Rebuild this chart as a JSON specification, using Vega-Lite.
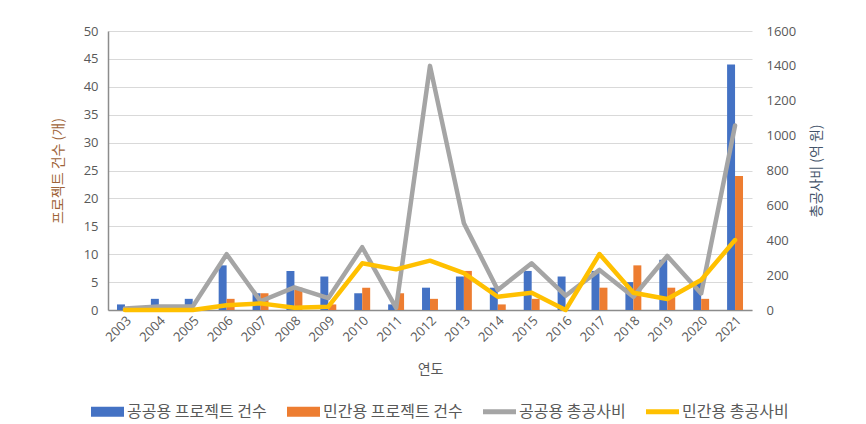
{
  "$schema": "https://vega.github.io/schema/vega-lite/v6.json",
  "width": 644,
  "height": 279,
  "autosize": {"type": "none"},
  "padding": {"left": 108, "top": 31, "right": 114, "bottom": 114},
  "background": "white",
  "config": {
    "font": "Noto Sans CJK KR",
    "view": {"stroke": null},
    "axis": {"labelColor": "#595959", "titleColor": "#595959", "labelFont": "Open Sans", "titleFont": "Noto Sans CJK KR", "titleFontWeight": "normal"},
    "legend": {"labelFont": "Noto Sans CJK KR", "padding": 0}
  },
  "datasets": {
    "counts": [
      {"year": "2003", "series": "공공용 프로젝트 건수", "count": 1},
      {"year": "2004", "series": "공공용 프로젝트 건수", "count": 2},
      {"year": "2005", "series": "공공용 프로젝트 건수", "count": 2},
      {"year": "2006", "series": "공공용 프로젝트 건수", "count": 8},
      {"year": "2007", "series": "공공용 프로젝트 건수", "count": 3},
      {"year": "2008", "series": "공공용 프로젝트 건수", "count": 7},
      {"year": "2009", "series": "공공용 프로젝트 건수", "count": 6},
      {"year": "2010", "series": "공공용 프로젝트 건수", "count": 3},
      {"year": "2011", "series": "공공용 프로젝트 건수", "count": 1},
      {"year": "2012", "series": "공공용 프로젝트 건수", "count": 4},
      {"year": "2013", "series": "공공용 프로젝트 건수", "count": 6},
      {"year": "2014", "series": "공공용 프로젝트 건수", "count": 4},
      {"year": "2015", "series": "공공용 프로젝트 건수", "count": 7},
      {"year": "2016", "series": "공공용 프로젝트 건수", "count": 6},
      {"year": "2017", "series": "공공용 프로젝트 건수", "count": 7},
      {"year": "2018", "series": "공공용 프로젝트 건수", "count": 5},
      {"year": "2019", "series": "공공용 프로젝트 건수", "count": 9},
      {"year": "2020", "series": "공공용 프로젝트 건수", "count": 5},
      {"year": "2021", "series": "공공용 프로젝트 건수", "count": 44},
      {"year": "2003", "series": "민간용 프로젝트 건수", "count": 0},
      {"year": "2004", "series": "민간용 프로젝트 건수", "count": 0},
      {"year": "2005", "series": "민간용 프로젝트 건수", "count": 0},
      {"year": "2006", "series": "민간용 프로젝트 건수", "count": 2},
      {"year": "2007", "series": "민간용 프로젝트 건수", "count": 3},
      {"year": "2008", "series": "민간용 프로젝트 건수", "count": 4},
      {"year": "2009", "series": "민간용 프로젝트 건수", "count": 1},
      {"year": "2010", "series": "민간용 프로젝트 건수", "count": 4},
      {"year": "2011", "series": "민간용 프로젝트 건수", "count": 3},
      {"year": "2012", "series": "민간용 프로젝트 건수", "count": 2},
      {"year": "2013", "series": "민간용 프로젝트 건수", "count": 7},
      {"year": "2014", "series": "민간용 프로젝트 건수", "count": 1},
      {"year": "2015", "series": "민간용 프로젝트 건수", "count": 2},
      {"year": "2016", "series": "민간용 프로젝트 건수", "count": 0},
      {"year": "2017", "series": "민간용 프로젝트 건수", "count": 4},
      {"year": "2018", "series": "민간용 프로젝트 건수", "count": 8},
      {"year": "2019", "series": "민간용 프로젝트 건수", "count": 4},
      {"year": "2020", "series": "민간용 프로젝트 건수", "count": 2},
      {"year": "2021", "series": "민간용 프로젝트 건수", "count": 24}
    ],
    "costs": [
      {"year": "2003", "series": "공공용 총공사비", "cost": 8},
      {"year": "2004", "series": "공공용 총공사비", "cost": 20},
      {"year": "2005", "series": "공공용 총공사비", "cost": 20},
      {"year": "2006", "series": "공공용 총공사비", "cost": 320},
      {"year": "2007", "series": "공공용 총공사비", "cost": 50},
      {"year": "2008", "series": "공공용 총공사비", "cost": 130},
      {"year": "2009", "series": "공공용 총공사비", "cost": 68},
      {"year": "2010", "series": "공공용 총공사비", "cost": 360},
      {"year": "2011", "series": "공공용 총공사비", "cost": 12},
      {"year": "2012", "series": "공공용 총공사비", "cost": 1400},
      {"year": "2013", "series": "공공용 총공사비", "cost": 498},
      {"year": "2014", "series": "공공용 총공사비", "cost": 115},
      {"year": "2015", "series": "공공용 총공사비", "cost": 268},
      {"year": "2016", "series": "공공용 총공사비", "cost": 82},
      {"year": "2017", "series": "공공용 총공사비", "cost": 230},
      {"year": "2018", "series": "공공용 총공사비", "cost": 76},
      {"year": "2019", "series": "공공용 총공사비", "cost": 310},
      {"year": "2020", "series": "공공용 총공사비", "cost": 95},
      {"year": "2021", "series": "공공용 총공사비", "cost": 1058},
      {"year": "2003", "series": "민간용 총공사비", "cost": 0},
      {"year": "2004", "series": "민간용 총공사비", "cost": 0},
      {"year": "2005", "series": "민간용 총공사비", "cost": 0},
      {"year": "2006", "series": "민간용 총공사비", "cost": 27},
      {"year": "2007", "series": "민간용 총공사비", "cost": 38},
      {"year": "2008", "series": "민간용 총공사비", "cost": 13},
      {"year": "2009", "series": "민간용 총공사비", "cost": 19},
      {"year": "2010", "series": "민간용 총공사비", "cost": 268},
      {"year": "2011", "series": "민간용 총공사비", "cost": 233},
      {"year": "2012", "series": "민간용 총공사비", "cost": 283},
      {"year": "2013", "series": "민간용 총공사비", "cost": 211},
      {"year": "2014", "series": "민간용 총공사비", "cost": 76},
      {"year": "2015", "series": "민간용 총공사비", "cost": 99},
      {"year": "2016", "series": "민간용 총공사비", "cost": 0},
      {"year": "2017", "series": "민간용 총공사비", "cost": 321},
      {"year": "2018", "series": "민간용 총공사비", "cost": 99},
      {"year": "2019", "series": "민간용 총공사비", "cost": 63},
      {"year": "2020", "series": "민간용 총공사비", "cost": 172},
      {"year": "2021", "series": "민간용 총공사비", "cost": 401}
    ]
  },
  "encoding": {
    "x": {
      "field": "year",
      "type": "nominal",
      "sort": null,
      "scale": {"paddingInner": 0.53, "paddingOuter": 0.265},
      "axis": {
        "title": "연도",
        "titleFontSize": 14,
        "titlePadding": 18,
        "labelAngle": -45,
        "labelFontSize": 13,
        "labelPadding": 4,
        "ticks": false,
        "domainColor": "#8c8c8c",
        "domainWidth": 1.5,
        "grid": false
      }
    }
  },
  "layer": [
    {
      "data": {"name": "counts"},
      "mark": {"type": "bar"},
      "encoding": {
        "xOffset": {"field": "series", "type": "nominal", "sort": ["공공용 프로젝트 건수", "민간용 프로젝트 건수"], "scale": {"paddingInner": 0, "paddingOuter": 0}},
        "y": {
          "field": "count",
          "type": "quantitative",
          "scale": {"domain": [0, 50], "nice": false},
          "axis": {
            "title": "프로젝트 건수 (개)",
            "titleColor": "#9e6338",
            "titleFontSize": 14,
            "titlePadding": 18,
            "values": [0, 5, 10, 15, 20, 25, 30, 35, 40, 45, 50],
            "labelFontSize": 13,
            "labelPadding": 10,
            "ticks": false,
            "domainColor": "#8c8c8c",
            "domainWidth": 1.5,
            "gridColor": "#d9d9d9",
            "gridWidth": 1
          }
        },
        "color": {
          "field": "series",
          "type": "nominal",
          "scale": {
            "domain": ["공공용 프로젝트 건수", "민간용 프로젝트 건수", "공공용 총공사비", "민간용 총공사비"],
            "range": ["#4472C4", "#ED7D31", "#A5A5A5", "#FFC000"]
          },
          "legend": {
            "title": null,
            "orient": "none",
            "legendX": -17,
            "legendY": 364,
            "direction": "horizontal",
            "labelFontSize": 16,
            "labelColor": "#595959",
            "symbolSize": 1089,
            "columnPadding": 20,
            "labelOffset": 3,
            "encode": {
              "symbols": {
                "update": {
                  "shape": {"signal": "indexof(datum.value, '총공사비') >= 0 ? 'M-1,-0.15H1V0.15H-1Z' : 'M-1,-0.3H1V0.3H-1Z'"},
                  "fill": {"scale": "color", "field": "value"},
                  "stroke": {"value": "transparent"},
                  "strokeWidth": {"value": 0},
                  "opacity": {"value": 1}
                }
              }
            }
          }
        }
      }
    },
    {
      "data": {"name": "costs"},
      "mark": {"type": "line", "strokeWidth": 4.5, "strokeJoin": "round", "strokeCap": "round"},
      "encoding": {
        "y": {
          "field": "cost",
          "type": "quantitative",
          "scale": {"domain": [0, 1600], "nice": false},
          "axis": {
            "orient": "right",
            "title": "총공사비 (억 원)",
            "titleAngle": -90,
            "titleFontSize": 14,
            "titleColor": "#44546A",
            "titlePadding": 28,
            "format": "d",
            "values": [0, 200, 400, 600, 800, 1000, 1200, 1400, 1600],
            "labelFontSize": 13,
            "labelPadding": 14,
            "ticks": false,
            "domain": false,
            "grid": false
          }
        },
        "color": {"field": "series", "type": "nominal"}
      }
    }
  ],
  "resolve": {"scale": {"y": "independent"}}
}
